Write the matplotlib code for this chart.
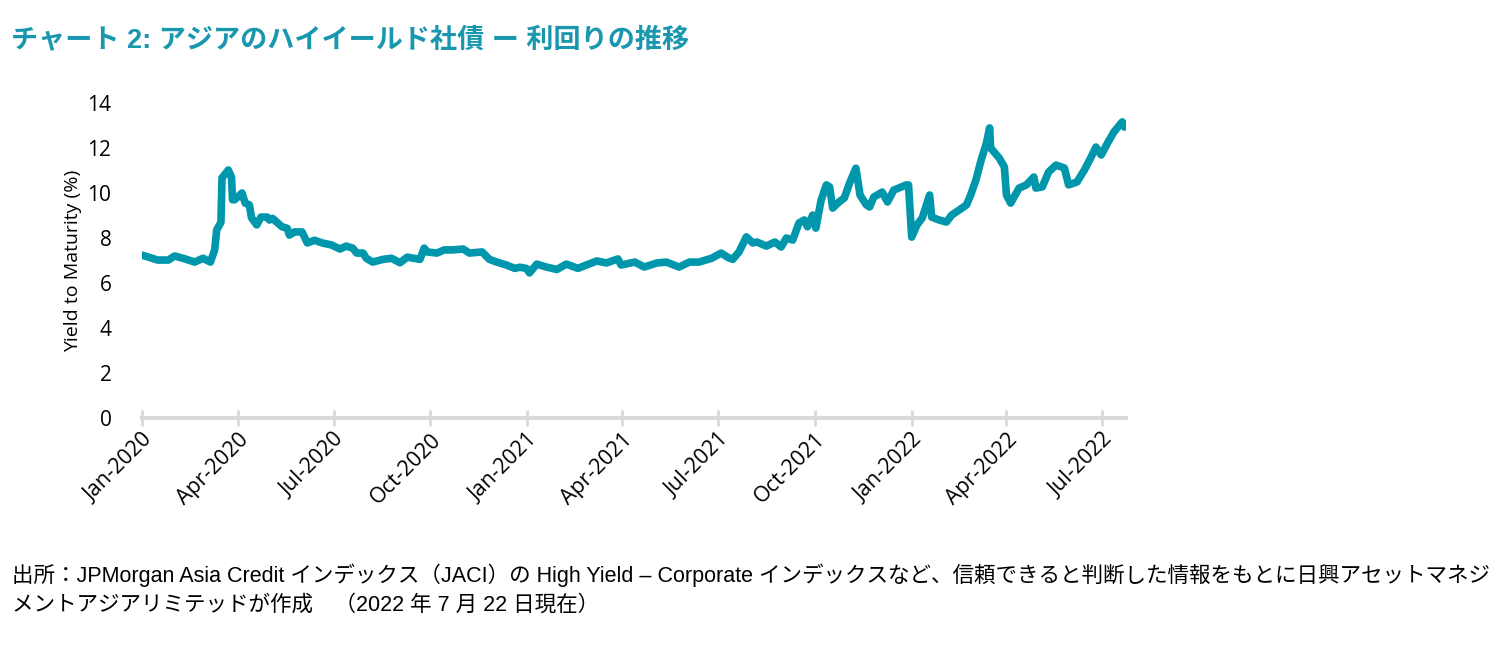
import matplotlib
matplotlib.use("Agg")
import matplotlib.pyplot as plt
import matplotlib.dates as mdates
import pandas as pd

# days since 2020-01-01
days = [0, 6, 15, 25, 31, 41, 50, 58, 65, 69, 71, 75, 76, 82, 85, 86, 88, 95, 98,
        102, 104, 109, 113, 119, 121, 124, 133, 138, 140, 145, 152, 157, 164, 171,
        180, 188, 194, 200, 204, 210, 213, 219, 229, 237, 245, 252, 264, 268, 271,
        280, 287, 295, 305, 311, 323, 330, 337, 346, 354, 359, 365, 368, 375, 384,
        394, 403, 414, 422, 432, 441, 452, 455, 468, 477, 489, 498, 510, 520, 529,
        541, 550, 556, 561, 567, 574, 580, 584, 593, 601, 607, 612, 618, 624, 629,
        632, 637, 640, 645, 650, 653, 656, 662, 667, 672, 678, 682, 688, 691, 695,
        703, 708, 714, 726, 728, 731, 736, 741, 748, 750, 757, 764, 769, 776, 783,
        787, 792, 797, 802, 805, 806, 814, 819, 821, 825, 833, 840, 847, 849, 855,
        861, 868, 876, 880, 888, 895, 901, 906, 911, 917, 923, 931, 933]
ytm = [7.24, 7.15, 7.02, 7.02, 7.2, 7.07, 6.93, 7.1, 6.93, 7.47, 8.36, 8.7, 10.67,
       11.02, 10.7, 9.7, 9.7, 10.0, 9.55, 9.47, 8.9, 8.58, 8.93, 8.93, 8.8, 8.87,
       8.5, 8.43, 8.13, 8.27, 8.27, 7.78, 7.9, 7.78, 7.69, 7.51, 7.64, 7.55, 7.33,
       7.33, 7.1, 6.93, 7.05, 7.1, 6.9, 7.15, 7.05, 7.55, 7.38, 7.33, 7.47, 7.47,
       7.51, 7.33, 7.38, 7.05, 6.93, 6.8, 6.65, 6.7, 6.65, 6.45, 6.84, 6.71, 6.6,
       6.84, 6.65, 6.8, 6.98, 6.89, 7.07, 6.8, 6.93, 6.71, 6.89, 6.93, 6.71, 6.93,
       6.93, 7.1, 7.33, 7.15, 7.05, 7.38, 8.05, 7.78, 7.82, 7.64, 7.82, 7.6, 8.0,
       7.91, 8.67, 8.8, 8.5, 9.02, 8.44, 9.69, 10.36, 10.27, 9.33, 9.6, 9.78, 10.44,
       11.1, 9.9, 9.47, 9.38, 9.82, 10.04, 9.6, 10.13, 10.36, 10.36, 8.04, 8.58,
       8.89, 9.91, 8.93, 8.8, 8.71, 9.02, 9.24, 9.47, 9.91, 10.58, 11.47, 12.22,
       12.89, 12.0, 11.56, 11.16, 9.91, 9.55, 10.22, 10.36, 10.71, 10.22, 10.27,
       10.93, 11.24, 11.11, 10.36, 10.49, 11.02, 11.56, 12.04, 11.69, 12.22, 12.71,
       13.16, 12.93]

title = "チャート 2: アジアのハイイールド社債 ー 利回りの推移"
source = ("出所：JPMorgan Asia Credit インデックス（JACI）の High Yield – Corporate "
          "インデックスなど、信頼できると判断した情報をもとに日興アセットマネジ\n"
          "メントアジアリミテッドが作成　（2022 年 7 月 22 日現在）")

dates = pd.to_datetime("2020-01-01") + pd.to_timedelta(days, unit="D")
teal = "#0097AC"
jp = ["Liberation Sans", "Noto Sans CJK JP"]

fig = plt.figure(figsize=(15.04, 6.58), dpi=100)
ax = fig.add_axes([0.0944, 0.3647, 0.6546, 0.4788])
ax.plot(dates, ytm, color=teal, lw=5.5, solid_joinstyle="round", solid_capstyle="round")

ax.set_xlim(pd.Timestamp("2020-01-01"), pd.Timestamp("2022-07-24"))
ax.set_ylim(0, 14)
ax.set_yticks(range(0, 15, 2))
ax.xaxis.set_major_locator(mdates.MonthLocator(bymonth=[1, 4, 7, 10]))
ax.xaxis.set_major_formatter(mdates.DateFormatter("%b-%Y"))
for s in ["top", "right", "left"]:
    ax.spines[s].set_visible(False)
ax.spines["bottom"].set_color("#d9d9d9")
ax.spines["bottom"].set_linewidth(3)
ax.tick_params(axis="x", direction="inout", length=12, width=2, color="#d9d9d9",
               labelsize=15.5, pad=2)
ax.tick_params(axis="y", length=0, labelsize=15, pad=22)
for lab in ax.get_xticklabels():
    lab.set_rotation(45)
    lab.set_ha("right")
    lab.set_rotation_mode("anchor")
    lab.set_fontfamily("Open Sans")
for lab in ax.get_yticklabels():
    lab.set_fontfamily("Open Sans")
ax.set_ylabel("Yield to Maturity (%)", fontsize=14, family="Open Sans", labelpad=4)

fig.text(0.007, 0.938, title, color="#1897AE", fontsize=19.5, fontweight="bold",
         family=jp, va="center")
fig.text(0.008, 0.143, source, fontsize=15.5, family=jp, va="top", linespacing=1.45)

fig.savefig("out.png", dpi=100)
